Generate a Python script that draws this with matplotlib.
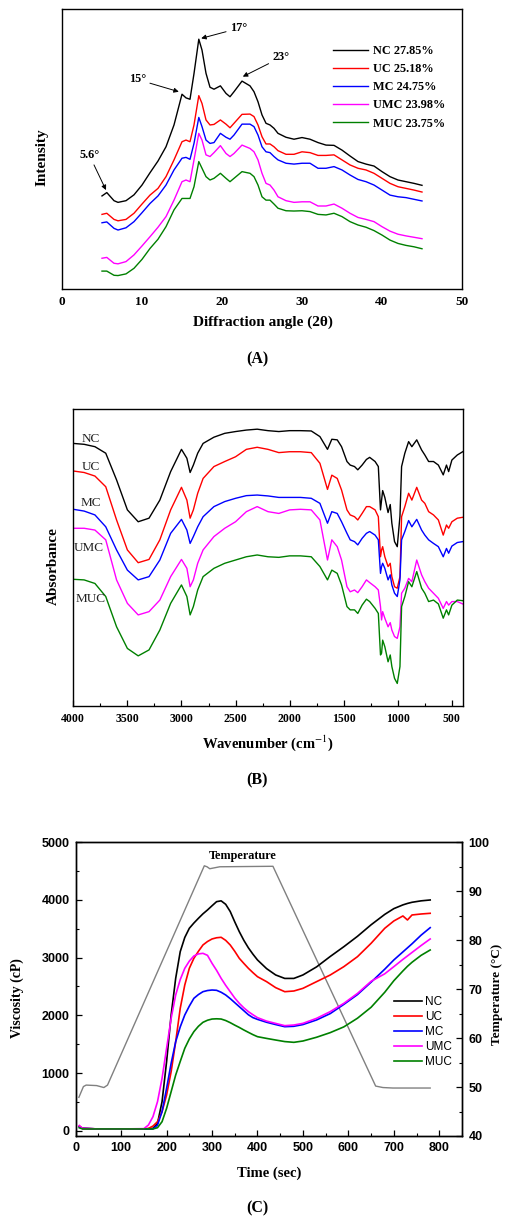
import matplotlib
matplotlib.use('Agg')
import matplotlib.pyplot as plt
from matplotlib.ticker import MultipleLocator

SERIF = 'Liberation Serif'
SANS = 'Liberation Sans'
plt.rcParams['font.family'] = SERIF
plt.rcParams['mathtext.fontset'] = 'stix'

SAMPLES = ['NC', 'UC', 'MC', 'UMC', 'MUC']
COLORS = ['black', '#ff0000', '#0000ff', '#ff00ff', '#008000']
CRYSTALLINITY = ['27.85%', '25.18%', '24.75%', '23.98%', '23.75%']

# ---- (A) XRD, intensity in arbitrary units
XRD_ANGLE = [5, 5.6, 6.5, 7, 8, 9, 10, 11, 12, 13, 14, 15, 15.5, 16, 16.5, 17.1, 17.5,
             18, 18.5, 19, 19.8, 20.5, 21, 21.5, 22.5, 23.5, 24, 24.5, 25, 25.5, 26, 26.5,
             27, 28, 29, 30, 31, 32, 33, 34, 35, 36, 37, 38, 39, 40, 41, 42, 43, 44, 45]
XRD_NC = [33.2, 34.4, 31.5, 30.9, 31.5, 33.6, 37.1, 41.5, 45.7, 50.8, 58.6, 69.6, 68.3, 67.8,
          77.0, 89.3, 85.4, 77.1, 72.1, 71.4, 72.6, 69.9, 68.7, 70.5, 74.3, 72.6, 70.5, 66.9,
          62.2, 59.2, 58.6, 57.4, 55.6, 54.2, 53.5, 54.1, 53.5, 52.3, 51.4, 51.3, 49.6, 47.5,
          45.5, 44.6, 43.9, 41.9, 40.1, 38.9, 38.3, 37.7, 37.0]
XRD_UC = [26.6, 27.0, 24.8, 24.3, 24.8, 27.0, 30.3, 33.5, 35.9, 40.1, 46.1, 52.6, 53.2, 52.6,
          58.6, 69.1, 66.3, 60.4, 58.6, 58.8, 60.4, 58.9, 57.6, 59.2, 62.4, 62.5, 61.6, 58.6,
          54.4, 51.8, 51.8, 50.8, 49.4, 48.1, 48.1, 49.0, 48.7, 47.7, 47.7, 47.9, 46.1, 44.3,
          43.1, 42.5, 41.3, 39.5, 37.7, 36.5, 35.9, 35.3, 34.6]
XRD_MC = [23.6, 23.9, 21.6, 21.0, 21.8, 24.0, 27.2, 30.5, 33.2, 37.1, 42.5, 46.7, 47.0, 46.3,
          52.0, 61.3, 58.0, 53.2, 52.0, 52.3, 55.6, 54.2, 53.5, 55.0, 58.9, 58.9, 58.0, 55.0,
          50.8, 49.0, 48.7, 47.3, 46.1, 44.9, 44.6, 44.9, 44.9, 43.1, 43.1, 43.7, 42.5, 40.7,
          39.1, 38.3, 37.1, 35.3, 33.5, 32.9, 32.6, 32.0, 31.4]
XRD_UMC = [10.9, 11.2, 9.1, 8.9, 9.7, 12.1, 15.3, 18.6, 22.0, 25.8, 31.7, 38.3, 38.9, 38.3,
           46.1, 55.6, 53.2, 47.9, 47.3, 48.7, 51.2, 48.4, 47.3, 48.4, 51.4, 50.2, 49.0, 46.1,
           41.3, 37.7, 37.1, 35.3, 32.9, 31.5, 30.9, 31.1, 31.1, 29.6, 29.6, 30.3, 28.8, 27.0,
           25.5, 24.8, 24.0, 22.2, 20.6, 19.5, 18.9, 18.4, 17.9]
XRD_MUC = [6.3, 6.3, 4.8, 4.7, 5.3, 7.3, 10.5, 14.4, 17.7, 22.2, 28.2, 32.3, 32.3, 32.3,
           36.5, 45.5, 43.1, 40.1, 38.9, 39.5, 41.3, 39.5, 38.3, 39.5, 41.9, 41.3, 40.1, 37.1,
           32.9, 31.7, 31.7, 30.3, 28.8, 27.9, 27.8, 27.9, 27.6, 26.6, 26.4, 27.0, 25.8, 24.0,
           22.8, 22.0, 20.8, 19.2, 17.4, 16.2, 15.5, 15.0, 14.3]
XRD_PEAKS = ['5.6°', '15°', '17°', '23°']
PEAK_TIP = [(5.5, 35.3), (14.6, 70.5), (17.4, 89.6), (22.6, 75.9)]
PEAK_TEXT = [(3.4, 47.9), (9.4, 74.9), (22.1, 93.2), (27.4, 82.8)]

# ---- (B) FTIR, absorbance in arbitrary units
FTIR_WN = [4000, 3900, 3800, 3700, 3600, 3500, 3400, 3300, 3200, 3100, 3000, 2950, 2920, 2890,
           2850, 2800, 2700, 2600, 2500, 2400, 2300, 2200, 2100, 2000, 1900, 1800, 1720, 1650,
           1610, 1560, 1520, 1470, 1440, 1400, 1370, 1330, 1290, 1260, 1210, 1180, 1160, 1150,
           1140, 1120, 1090, 1070, 1055, 1030, 1005, 980, 965, 935, 900, 870, 825, 780, 750,
           715, 670, 625, 580, 550, 530, 500, 450, 400]
FTIR_NC = [88.5, 88.2, 87.4, 85.2, 76.2, 66.1, 62.1, 63.3, 69.4, 79.0, 86.5, 83.5, 78.7, 81.2,
           85.2, 88.5, 90.6, 91.9, 92.5, 93.0, 93.3, 92.8, 92.5, 92.8, 92.8, 92.7, 90.8, 86.5,
           89.9, 89.7, 87.4, 82.4, 81.2, 80.7, 79.6, 81.2, 83.1, 83.8, 82.4, 80.7, 66.1, 69.4,
           72.6, 70.3, 65.2, 67.9, 61.6, 55.4, 53.7, 64.0, 80.7, 85.2, 89.1, 87.4, 89.7, 86.3,
           84.6, 82.4, 82.4, 81.2, 77.9, 81.2, 79.0, 82.9, 84.6, 85.7]
FTIR_UC = [79.2, 78.7, 77.5, 73.9, 62.7, 52.6, 48.3, 49.4, 56.0, 66.1, 73.7, 69.4, 63.3, 66.1,
           71.7, 76.7, 80.7, 82.4, 84.0, 86.5, 87.2, 86.5, 85.4, 85.7, 85.7, 85.4, 81.8, 73.0,
           77.8, 76.7, 72.8, 66.1, 64.4, 63.8, 62.7, 64.9, 67.2, 67.2, 66.1, 63.8, 50.3, 52.6,
           53.7, 50.3, 47.0, 48.1, 43.6, 40.2, 39.7, 43.6, 63.8, 67.2, 71.7, 69.4, 73.7, 69.4,
           68.3, 65.5, 64.4, 62.7, 57.6, 61.0, 59.9, 62.1, 63.3, 63.6]
FTIR_MC = [66.3, 65.7, 64.4, 60.4, 52.6, 45.8, 42.5, 43.6, 49.2, 58.2, 62.9, 59.3, 54.8, 57.1,
           60.4, 63.8, 67.2, 68.9, 70.0, 70.9, 71.1, 70.8, 70.3, 70.3, 70.3, 70.0, 68.3, 61.6,
           65.5, 64.9, 62.1, 58.2, 56.0, 55.4, 54.3, 56.5, 58.2, 58.8, 57.6, 56.0, 44.7, 47.0,
           48.1, 46.4, 42.5, 44.2, 40.8, 38.0, 36.9, 42.5, 56.0, 58.8, 62.5, 60.4, 62.9, 59.3,
           57.6, 56.0, 54.8, 53.7, 50.3, 53.1, 51.5, 53.9, 55.1, 55.4]
FTIR_UMC = [59.9, 59.9, 59.3, 56.0, 42.5, 34.6, 30.7, 31.8, 35.7, 43.6, 49.4, 46.4, 40.2, 42.5,
            48.1, 52.6, 57.1, 59.9, 62.1, 65.5, 67.2, 65.5, 64.9, 66.1, 66.3, 66.1, 62.7, 49.2,
            56.0, 53.7, 49.2, 40.2, 38.5, 39.1, 38.2, 40.2, 42.5, 41.6, 40.2, 39.1, 33.5, 29.0,
            31.8, 29.6, 26.7, 28.1, 25.6, 23.4, 22.8, 26.7, 38.0, 39.7, 43.0, 41.9, 49.2, 44.2,
            41.9, 39.7, 38.0, 36.3, 32.9, 35.2, 34.0, 35.2, 35.2, 34.4]
FTIR_MUC = [42.7, 42.5, 41.3, 36.9, 26.7, 19.4, 16.9, 18.9, 25.6, 34.6, 40.8, 36.9, 30.7, 33.5,
            39.1, 43.6, 46.4, 48.1, 49.2, 50.3, 50.9, 50.3, 50.1, 50.6, 50.6, 50.3, 47.0, 42.5,
            45.8, 44.7, 40.8, 33.5, 32.4, 32.4, 31.2, 34.0, 36.0, 35.2, 32.9, 31.2, 17.2, 17.8,
            22.2, 20.0, 14.9, 17.2, 13.3, 9.3, 7.6, 13.3, 33.5, 36.9, 41.9, 40.2, 45.3, 39.7,
            38.0, 35.2, 35.7, 34.4, 29.6, 32.4, 30.7, 34.0, 35.7, 35.5]
FTIR_LABEL_WN = [3840, 3840, 3840, 3860, 3840]
FTIR_LABEL_Y = [90.0, 80.4, 68.5, 53.1, 36.1]

# ---- (C) RVA pasting profile
VISC_TIME = [8, 15, 50, 100, 150, 160, 170, 180, 190, 200, 210, 220, 230, 240, 250, 260, 270,
             280, 290, 300, 310, 320, 330, 340, 350, 360, 370, 380, 390, 400, 420, 440, 460,
             480, 500, 530, 560, 590, 620, 650, 680, 700, 720, 730, 740, 760, 780]
VISC_NC = [70, 40, 30, 30, 30, 33, 40, 127, 503, 1197, 2006, 2642, 3104, 3350, 3509, 3600, 3682,
           3760, 3827, 3900, 3971, 3985, 3925, 3800, 3620, 3450, 3300, 3170, 3060, 2960, 2810,
           2700, 2640, 2640, 2700, 2840, 3020, 3190, 3370, 3570, 3750, 3850, 3915, 3940, 3960,
           3985, 4000]
VISC_UC = [80, 40, 30, 30, 30, 40, 80, 156, 330, 618, 1023, 1543, 2121, 2526, 2815, 2988, 3110,
           3220, 3280, 3324, 3345, 3353, 3300, 3220, 3110, 2988, 2900, 2815, 2740, 2670, 2584,
           2480, 2410, 2422, 2468, 2584, 2699, 2844, 3017, 3249, 3509, 3636, 3723, 3653, 3740,
           3757, 3769]
VISC_MC = [60, 40, 30, 30, 30, 30, 30, 98, 330, 734, 1168, 1543, 1800, 2006, 2160, 2295, 2360,
           2410, 2430, 2439, 2434, 2400, 2353, 2290, 2220, 2150, 2080, 2010, 1960, 1930, 1880,
           1840, 1803, 1810, 1840, 1920, 2030, 2190, 2360, 2575, 2800, 2960, 3100, 3170, 3240,
           3390, 3520]
VISC_UMC = [90, 40, 30, 30, 35, 98, 243, 503, 908, 1428, 1948, 2353, 2620, 2815, 2940, 3029,
            3065, 3075, 3040, 2902, 2780, 2642, 2520, 2410, 2300, 2208, 2130, 2064, 2010, 1960,
            1900, 1860, 1821, 1832, 1861, 1948, 2064, 2208, 2380, 2590, 2720, 2844, 2970, 3030,
            3090, 3210, 3324]
VISC_MUC = [50, 30, 30, 30, 30, 30, 30, 52, 156, 387, 676, 965, 1200, 1428, 1590, 1717, 1810,
            1879, 1915, 1936, 1940, 1936, 1910, 1873, 1830, 1790, 1746, 1705, 1665, 1630, 1600,
            1572, 1545, 1532, 1555, 1620, 1700, 1800, 1950, 2140, 2400, 2600, 2770, 2850, 2920,
            3040, 3133]
TEMP_TIME = [7, 17, 23, 46, 62, 70, 283, 289, 295, 317, 434, 660, 676, 698, 780]
TEMP_C = [47.9, 50.1, 50.4, 50.3, 49.9, 50.4, 95.2, 95.0, 94.6, 95.0, 95.1, 50.2, 49.9, 49.8, 49.8]

W, H = 506, 1218
fig = plt.figure(figsize=(W / 100, H / 100), dpi=100)


def px_box(left, top, right, bottom):
    # pixel box of the reference -> figure fraction
    return [left / W, 1 - bottom / H, (right - left) / W, (bottom - top) / H]


def fig_label(x, y, s, **kw):
    fig.text(x / W, 1 - y / H, s, ha='center', va='center', **kw)


def frame(ax):
    for sp in ax.spines.values():
        sp.set_linewidth(1.0)


# ------------------------------------------------------------------ (A)
ax = fig.add_axes(px_box(62, 9.3, 462, 288.7))
xrd = [XRD_NC, XRD_UC, XRD_MC, XRD_UMC, XRD_MUC]
for name, vals, c, pct in zip(SAMPLES, xrd, COLORS, CRYSTALLINITY):
    ax.plot(XRD_ANGLE, vals, color=c, lw=1.0, label=f'{name} {pct}')
ax.set_xlim(0, 50)
ax.set_ylim(0, 100)
ax.set_yticks([])
ax.set_xticks(range(0, 51, 10))
ax.tick_params(axis='x', length=0, pad=5, labelsize=9.5)
plt.setp(ax.get_xticklabels(), fontweight='bold')
frame(ax)
for s, tip, txt in zip(XRD_PEAKS, PEAK_TIP, PEAK_TEXT):
    ax.annotate(s, xy=tip, xytext=txt, ha='center', va='center', fontsize=8.8,
                fontweight='bold',
                arrowprops=dict(arrowstyle='-|>', color='black', lw=0.7,
                                mutation_scale=7, shrinkA=1, shrinkB=0))
ax.legend(loc='upper left', bbox_to_anchor=(0.6775, 0.872), frameon=False,
          prop=dict(family=SERIF, weight='bold', size=8.8), handlelength=2.9,
          handletextpad=0.35, labelspacing=0.5, borderpad=0, borderaxespad=0)
fig_label(263, 322.5, 'Diffraction angle (2θ)', fontsize=11, fontweight='bold')
fig_label(42, 157, 'Intensity', fontsize=11, fontweight='bold', rotation=90)
fig_label(257, 359, '(A)', fontsize=11.5, fontweight='bold')

# ------------------------------------------------------------------ (B)
ax = fig.add_axes(px_box(73.3, 409.3, 462.7, 706))
ftir = [FTIR_NC, FTIR_UC, FTIR_MC, FTIR_UMC, FTIR_MUC]
for name, vals, c, lx, ly in zip(SAMPLES, ftir, COLORS, FTIR_LABEL_WN, FTIR_LABEL_Y):
    ax.plot(FTIR_WN, vals, color=c, lw=1.0)
    ax.text(lx, ly, name, ha='center', va='center', fontsize=9.5, color='#222222')
ax.set_xlim(4000, 400)
ax.set_ylim(0, 100)
ax.set_yticks([])
ax.xaxis.set_major_locator(MultipleLocator(500))
ax.xaxis.set_minor_locator(MultipleLocator(250))
ax.tick_params(axis='x', which='both', direction='in', pad=5, labelsize=8.5)
ax.tick_params(axis='x', which='major', length=4.5, width=0.9)
ax.tick_params(axis='x', which='minor', length=2.5, width=0.8)
plt.setp(ax.get_xticklabels(), fontweight='bold')
frame(ax)
fig_label(268, 743, 'Wavenumber (cm$^{-1}$)', fontsize=10.5, fontweight='bold')
fig_label(53, 566, 'Absorbance', fontsize=11, fontweight='bold', rotation=90)
fig_label(257, 780, '(B)', fontsize=11.5, fontweight='bold')

# ------------------------------------------------------------------ (C)
ax = fig.add_axes(px_box(75.7, 842.3, 462, 1136))
axt = ax.twinx()
axt.plot(TEMP_TIME, TEMP_C, color='#808080', lw=1.0)
axt.set_ylim(40, 100)
axt.yaxis.set_major_locator(MultipleLocator(10))
axt.yaxis.set_minor_locator(MultipleLocator(5))
ax.set_zorder(axt.get_zorder() + 1)
ax.patch.set_visible(False)

visc = [VISC_NC, VISC_UC, VISC_MC, VISC_UMC, VISC_MUC]
for name, vals, c in zip(SAMPLES, visc, COLORS):
    ax.plot(VISC_TIME, vals, color=c, lw=1.2, label=name)
ax.set_xlim(0, 850)
ax.set_ylim(-92, 5000)
ax.xaxis.set_major_locator(MultipleLocator(100))
ax.xaxis.set_minor_locator(MultipleLocator(50))
ax.yaxis.set_major_locator(MultipleLocator(1000))
ax.yaxis.set_minor_locator(MultipleLocator(500))
for a in (ax, axt):
    a.tick_params(which='both', direction='in', pad=4.5, labelsize=9)
    a.tick_params(which='major', length=4.5, width=0.9)
    a.tick_params(which='minor', length=2.5, width=0.8)
    plt.setp(a.get_xticklabels() + a.get_yticklabels(), family=SANS, fontweight='bold')
frame(ax)
frame(axt)
ax.text(367, 4763, 'Temperature', ha='center', va='center', fontsize=8.8, fontweight='bold')
ax.legend(loc='upper left', bbox_to_anchor=(0.824, 0.477), frameon=False,
          prop=dict(family=SANS, size=8.5), handlelength=2.4, handletextpad=0.25,
          labelspacing=0.25, borderpad=0, borderaxespad=0)
fig_label(17.3, 998, 'Viscosity (cP)', fontsize=10, fontweight='bold', rotation=90)
fig_label(497.5, 994, 'Temperature (°C)', fontsize=9.5, fontweight='bold', rotation=90)
fig_label(269, 1173, 'Time (sec)', fontsize=10.5, fontweight='bold')
fig_label(257, 1208, '(C)', fontsize=11.5, fontweight='bold')

fig.savefig('out.png', dpi=100)
